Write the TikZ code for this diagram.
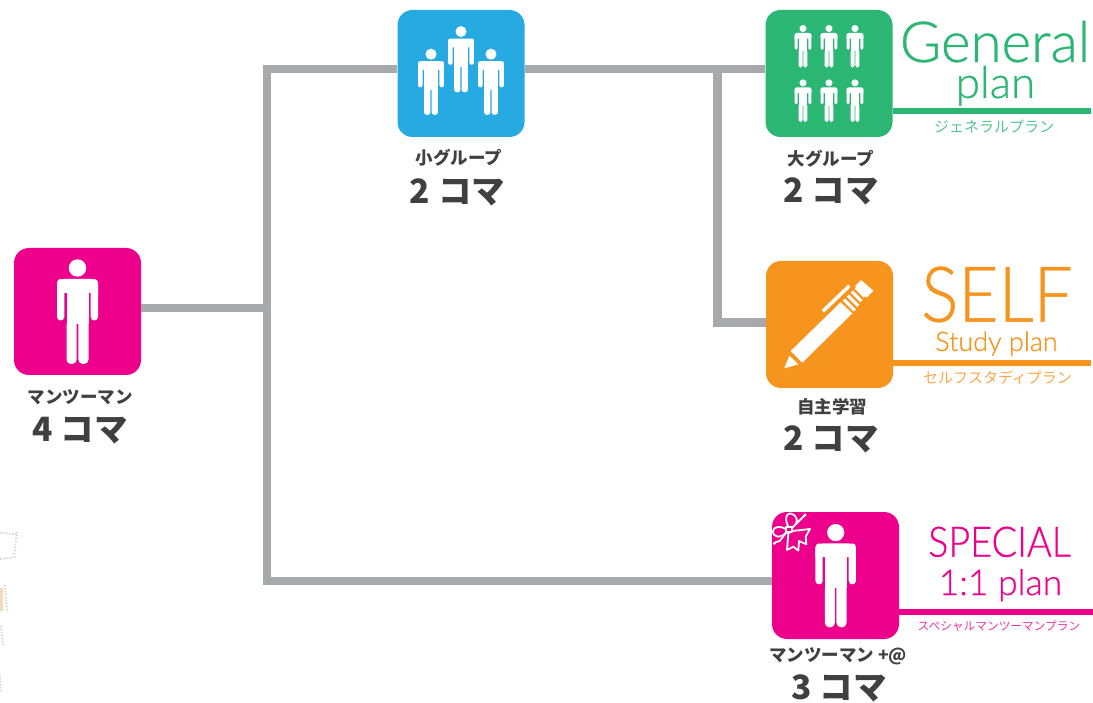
\documentclass[tikz,border=0pt]{standalone}
\usepackage{fontspec}
\setmainfont{Lato}[UprightFont=* Light,FakeBold=0.6]
\newfontfamily\narrowfont{Lato}[UprightFont=* Light,FakeBold=0.6,FakeStretch=0.9]
\newfontfamily\jpfont{Noto Sans CJK JP}
\usepackage{tikz}
\definecolor{linkgrey}{HTML}{A7A9AC}
\definecolor{tilepink}{HTML}{EC008C}
\definecolor{tileblue}{HTML}{27AAE1}
\definecolor{tilegreen}{HTML}{2BB673}
\definecolor{tileorange}{HTML}{F7941E}
\definecolor{textgrey}{HTML}{404040}
\tikzset{
	tile/.style={minimum size=127pt,inner sep=0pt,rounded corners=15pt},
	link/.style={draw=linkgrey,line width=8.5pt,line join=miter},
	planbar/.style={line width=6pt},
	caption/.style={inner sep=0pt,text=textgrey,font=\jpfont\bfseries\fontsize{17.5}{17.5}\selectfont},
	count/.style={inner sep=0pt,text=textgrey,font=\jpfont\bfseries\fontsize{33.5}{33.5}\selectfont},
	subname/.style={inner sep=0pt,font=\jpfont\fontsize{#1}{#1}\selectfont},
	planname/.style={inner sep=0pt,anchor=base,font=\fontsize{#1}{#1}\selectfont},
	narrowname/.style={inner sep=0pt,anchor=base,font=\narrowfont\fontsize{#1}{#1}\selectfont},
	speck/.style={draw=black!16,line width=2pt,dash pattern=on 1.5pt off 1.5pt}
}
% one standing figure, origin at its middle
\newcommand{\figman}[3]{
	\begin{scope}[shift={(#1,#2)},scale=#3,white]
		\fill (0,-44) circle (8.7);
		\fill [rounded corners=#3*3.6pt] (-20.5,-33) rectangle (-13.2,8.5);
		\fill [rounded corners=#3*3.6pt] (13.2,-33) rectangle (20.5,8.5);
		\fill (-20.5,-19) [rounded corners=#3*7pt] -- (-20.5,-33) -- (20.5,-33) [sharp corners] -- (20.5,-19) -- cycle;
		\fill (-11,-25) rectangle (11,12);
		\fill [rounded corners=#3*4.5pt] (-11,8) rectangle (-0.8,52);
		\fill [rounded corners=#3*4.5pt] (0.8,8) rectangle (11,52);
	\end{scope}
}
\begin{document}
\begin{tikzpicture}[x=1pt,y=-1pt]
	\useasboundingbox (0,0) rectangle (1093,703);
	% tiles
	\node [tile,fill=tilepink] (manbox) at (77.5,311.5) {};
	\node [tile,fill=tileblue] (bluebox) at (461,73.5) {};
	\node [tile,fill=tilegreen] (greenbox) at (829,73.5) {};
	\node [tile,fill=tileorange] (selfbox) at (829.5,324.5) {};
	\node [tile,fill=tilepink] (specialbox) at (835.5,575.5) {};
	% grey lines
	\coordinate (manjoin) at (267,308);
	\coordinate (topjoin) at (267,69);
	\coordinate (botjoin) at (267,581);
	\coordinate (branchtop) at (717.5,69);
	\coordinate (branchbot) at (717.5,322.5);
	\draw [link] (manbox.east |- manjoin) -- (manjoin);
	\draw [link] (bluebox.west |- topjoin) -- (topjoin) -- (botjoin) -- (specialbox.west |- botjoin);
	\draw [link] (bluebox.east |- topjoin) -- (greenbox.west |- topjoin);
	\draw [link] (branchtop) -- (branchbot) -- (selfbox.west |- branchbot);
	% plan bars
	\coordinate (greenend) at (1091,111);
	\coordinate (selfend) at (1091,363);
	\coordinate (specialend) at (1093,612);
	\draw [planbar,tilegreen] (greenbox.east |- greenend) -- (greenend);
	\draw [planbar,tileorange] (selfbox.east |- selfend) -- (selfend);
	\draw [planbar,tilepink] (specialbox.east |- specialend) -- (specialend);
	% figures
	\figman{77.5}{312}{1}
	\figman{431}{82}{0.633}
	\figman{461}{59.4}{0.633}
	\figman{491}{82}{0.633}
	\foreach \figx in {803,829,855}{
		\figman{\figx}{46.4}{0.407}
		\figman{\figx}{100.8}{0.407}
	}
	\figman{835.7}{576}{0.987}
	% pencil
	\begin{scope}[shift={(775,275)},scale=1/3,white]
		\fill (28,280) -- (43,242) -- (70,268) -- cycle;
		\fill (47,228) -- (82,263) -- (232,115) -- (197,82) -- cycle;
		\fill (140,105) -- (220,28) -- (226,37) -- (147,113) -- cycle;
		\foreach \i in {0,1,2,3}{
			\fill ({203+12*\i},{77-12*\i}) -- ({210+12*\i},{70-12*\i}) -- ({243+10*\i},{103-14*\i}) -- ({236+10*\i},{110-14*\i}) -- cycle;
		}
		\fill (258,15) -- (295,47) -- (275,68) -- (240,33) -- cycle;
	\end{scope}
	% ribbon
	\begin{scope}[shift={(765,505)},scale=1/3,draw=white,fill=tilepink,line width=1.8pt,line join=round]
		\filldraw (72,68) .. controls (58,45) and (62,25) .. (76,25) .. controls (95,28) and (105,50) .. (82,68) -- (118,32);
		\filldraw (82,78) -- (135,72) -- (122,95) -- (124,118) -- (102,108) -- (100,137) -- (85,125) -- (66,135) -- (70,85) -- cycle;
		\filldraw (64,72) .. controls (45,62) and (26,64) .. (24,78) .. controls (24,100) and (50,100) .. (64,82) -- cycle;
		\filldraw (64,82) -- (44,108) -- (30,112);
		\filldraw (62,66) rectangle (82,82);
		\fill [white] (120,30) circle (5);
		\fill [white] (28,115) circle (5);
	\end{scope}
	% faint marks at the lower left
	\fill [orange!30!brown!30!white] (0,588) rectangle (3,611);
	\draw [speck] (0,533) -- (17,534);
	\draw [speck] (17,532) -- (14,555);
	\draw [speck] (0,559) -- (16,557);
	\draw [speck] (5,585) -- (7,612);
	\draw [speck] (1,626) -- (3,647);
	\draw [speck] (0,675) -- (1,692);
	% captions
	\node [caption] (mancap) at (80,397) {マンツーマン};
	\node [count] (mancount) at (80,430.5) {4 コマ};
	\node [caption] (bluecap) at (459,158) {小グループ};
	\node [count] (bluecount) at (457.5,192.5) {2 コマ};
	\node [caption] (greencap) at (831,159) {大グループ};
	\node [count] (greencount) at (831,191.5) {2 コマ};
	\node [caption] (selfcap) at (832,407) {自主学習};
	\node [count] (selfcount) at (831,439.5) {2 コマ};
	\node [caption] (specialcap) at (838,656) {マンツーマン +@};
	\node [count] (specialcount) at (839,688.5) {3 コマ};
	% plan names
	\node [planname=56.5,text=tilegreen] (generalname) at (995,62) {General};
	\node [planname=44,text=tilegreen] (generalplan) at (995.5,98) {plan};
	\node [subname=15,text=tilegreen!80!white] (generalsub) at (994,127) {ジェネラルプラン};
	\node [narrowname=77,text=tileorange] (selfname) at (997,321.7) {SELF};
	\node [planname=27,text=tileorange] (selfplan) at (996.5,351) {Study plan};
	\node [subname=15,text=tileorange!80!white] (selfsub) at (997.5,378) {セルフスタディプラン};
	\node [narrowname=42,text=tilepink] (specialname) at (999.5,556.7) {SPECIAL};
	\node [planname=35.5,text=tilepink] (specialplan) at (1000.5,595) {1:1 plan};
	\node [subname=11.7,text=tilepink!80!white] (specialsub) at (999,626.5) {スペシャルマンツーマンプラン};
\end{tikzpicture}
\end{document}
